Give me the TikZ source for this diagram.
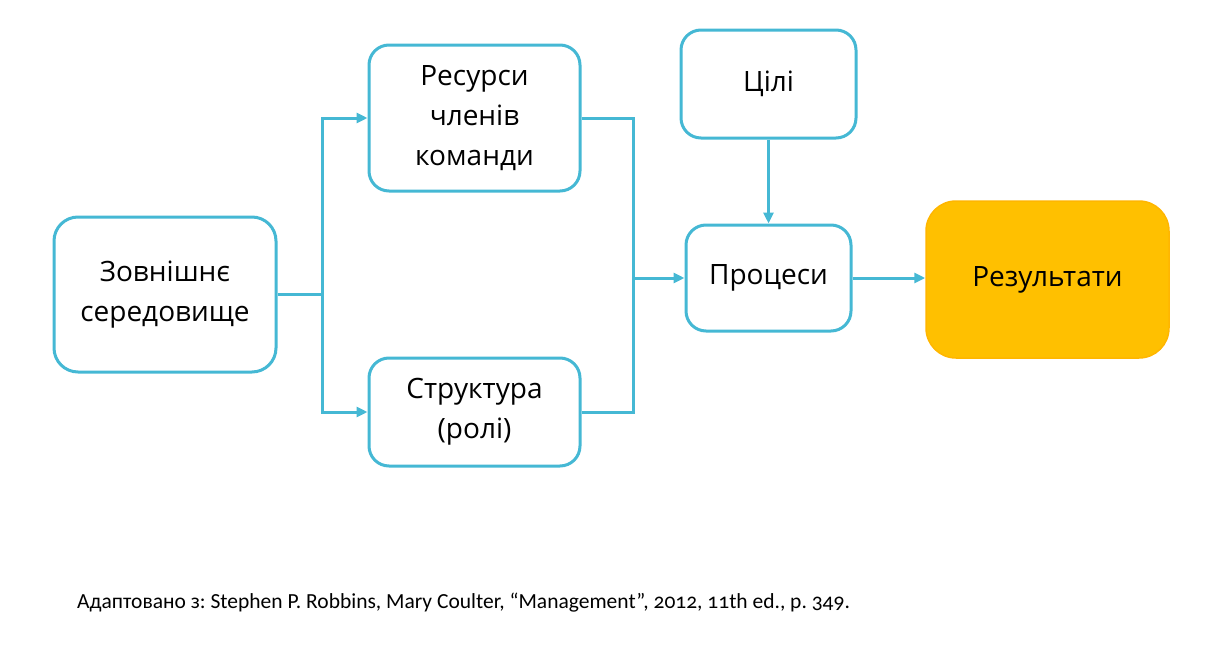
\documentclass[tikz,border=0pt]{standalone}
\usepackage{fontspec}
\setmainfont{Open Sans}
\newfontfamily\capfont[Numbers=OldStyle]{Carlito}
\usetikzlibrary{arrows.meta,positioning}
\definecolor{teamblue}{RGB}{69,184,212}
\definecolor{resultgold}{RGB}{255,192,0}
\frenchspacing

\begin{document}
\begin{tikzpicture}[x=1pt,y=-1pt,
  box/.style={rectangle,rounded corners=20pt,draw=teamblue,line width=3pt,fill=white,
    font=\fontsize{28}{40}\selectfont,align=center,inner sep=4pt},
  arr/.style={-{Triangle[length=11pt,width=10pt]},teamblue,line width=3pt},
  ln/.style={teamblue,line width=3pt},
  gold/.style={draw=resultgold!85!orange,fill=resultgold,line width=1.5pt},
]
  \useasboundingbox (0,0) rectangle (1211,648);
  \node[box,minimum width=222pt,minimum height=155pt,rounded corners=24pt] (env) at (165,294.5) {Зовнішнє\\середовище};
  \node[box,minimum width=211pt,minimum height=146pt] (resources) at (474.5,118) {Ресурси\\членів\\команди};
  \node[box,minimum width=211pt,minimum height=108pt] (struct) at (474.5,412) {Структура\\(ролі)};
  \node[box,minimum width=175pt,minimum height=108pt] (goals) at (768.5,84) {Цілі};
  \node[box,minimum width=165pt,minimum height=106pt] (proc) at (768.5,278) {Процеси};
  \node[box,gold,minimum width=243pt,minimum height=157pt,rounded corners=30pt] (result) at (1047.5,279.5) {Результати};
  \coordinate (split) at (322,294.5);
  \coordinate (join) at (633,278);
  \draw[ln] (env.east |- split) -- (split);
  \draw[arr] (split) |- (resources.west);
  \draw[arr] (split) |- (struct.west);
  \draw[ln] (resources.east) -| (join);
  \draw[ln] (struct.east) -| (join);
  \draw[arr] (join) -- (proc.west);
  \draw[arr] (goals) -- (proc);
  \draw[arr] (proc.east) -- (proc.east -| result.west);
  \node[anchor=base west,inner sep=0pt,font=\capfont\fontsize{21.5}{24}\selectfont] (src) at (77,608)
    {Адаптовано з: Stephen P. Robbins, Mary Coulter, “Management”, 2012, 11th ed., p. 349.};
\end{tikzpicture}
\end{document}
